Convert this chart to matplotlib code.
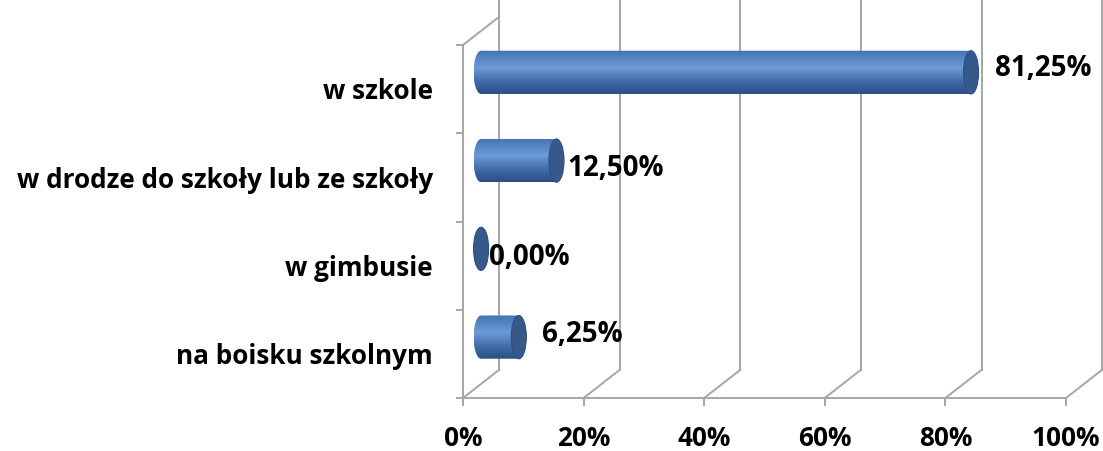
import numpy as np
import matplotlib
matplotlib.use("Agg")
import matplotlib.pyplot as plt
from matplotlib.path import Path
from matplotlib.patches import PathPatch, Ellipse
from matplotlib.colors import LinearSegmentedColormap

# dane
categories = ["na boisku szkolnym", "w gimbusie", "w drodze do szkoły lub ze szkoły", "w szkole"]
values = [6.25, 0.0, 12.50, 81.25]
value_labels = ["6,25%", "0,00%", "12,50%", "81,25%"]
xticks = [0, 20, 40, 60, 80, 100]
xtick_labels = ["0%", "20%", "40%", "60%", "80%", "100%"]

plt.rcParams['font.family'] = ['Open Sans', 'DejaVu Sans']

W, H = 1103, 451
fig = plt.figure(figsize=(W / 100, H / 100), dpi=100)
# przedni plan osi: x 463..1066 px, y 45..398 px
ax = fig.add_axes([463 / W, (H - 398) / H, 603 / W, 353 / H])
ax.set_xlim(0, 100)
ax.set_ylim(-0.5, 3.5)
ax.axis("off")

DX = 6.0    # glebokosc 3D w jednostkach x
DY = 0.32   # glebokosc 3D w jednostkach y
grid_c = "#a6a6a6"
lw = 1.4
fs = 18.8

# sciana tylna + podloga
for x in xticks:
    ax.plot([x + DX, x + DX], [-0.5 + DY, 3.5 + DY + 0.3], color=grid_c, lw=lw, clip_on=False)
    ax.plot([x, x + DX], [-0.5, -0.5 + DY], color=grid_c, lw=lw, clip_on=False)
    ax.plot([x, x], [-0.5, -0.58], color=grid_c, lw=lw, clip_on=False)
ax.plot([0, 100], [-0.5, -0.5], color=grid_c, lw=lw, clip_on=False)
# sciana boczna
ax.plot([0, 0], [-0.5, 3.5], color=grid_c, lw=lw, clip_on=False)
ax.plot([0, DX], [3.5, 3.5 + DY], color=grid_c, lw=lw, clip_on=False)
for k in range(5):
    ax.plot([-1.0, 0], [k - 0.5, k - 0.5], color=grid_c, lw=lw, clip_on=False)

# etykiety
for i, c in enumerate(categories):
    ax.text(-5.0, i - 0.03, c, ha="right", va="center", fontsize=fs, fontweight="bold", clip_on=False)
for x, t in zip(xticks, xtick_labels):
    ax.text(x, -0.96, t, ha="center", va="center", fontsize=fs, fontweight="bold", clip_on=False)

# cylindry
cmap = LinearSegmentedColormap.from_list("cyl", [
    (0.0, "#2c4f82"), (0.25, "#3d67a3"), (0.6, "#6b9ad6"), (0.8, "#5887c6"), (1.0, "#4372b3")])
grad = np.linspace(0, 1, 256).reshape(-1, 1)
R = 0.245   # promien w y
A = 1.25    # polos elipsy w x
t = np.linspace(np.pi / 2, 3 * np.pi / 2, 60)
label_dx = [2.6, 0.1, 0.5, 2.7]
label_dy = [0.03, -0.1, -0.09, 0.04]
for i, v in enumerate(values):
    yc = i + DY / 2 + 0.03
    x0 = DX / 2
    x1 = v + DX / 2
    if v > 0:
        ex = x0 + A * np.cos(t)
        ey = yc + R * np.sin(t)
        verts = [(x1, yc + R)] + list(zip(ex, ey)) + [(x1, yc - R), (x1, yc + R)]
        path = Path(verts)
        patch = PathPatch(path, facecolor="none", edgecolor="none")
        ax.add_patch(patch)
        im = ax.imshow(grad, cmap=cmap, aspect="auto", origin="lower",
                       extent=[x0 - A, x1, yc - R, yc + R], zorder=2)
        im.set_clip_path(patch)
    cap = Ellipse((x1, yc), 2 * A, 2 * R, facecolor="#36598c", edgecolor="#2f4f7d", lw=0.8, zorder=3)
    ax.add_patch(cap)
    ax.text(x1 + A + label_dx[i], yc + label_dy[i], value_labels[i], ha="left", va="center",
            fontsize=20, fontweight="bold", clip_on=False, zorder=4)

ax.set_xlim(0, 100)
ax.set_ylim(-0.5, 3.5)
fig.savefig("out.png", dpi=100)
